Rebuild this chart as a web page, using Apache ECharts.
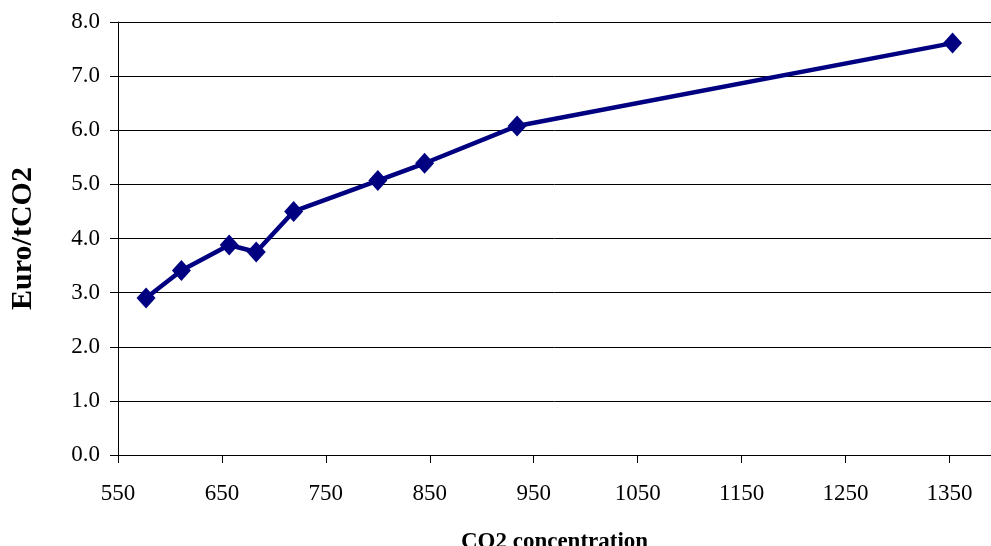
<!DOCTYPE html>
<html>
<head>
<meta charset="utf-8">
<script src="https://cdn.jsdelivr.net/npm/echarts@6/dist/echarts.min.js"></script>
<style>
  html, body { margin: 0; padding: 0; background: #fff; }
  #chart { width: 991px; height: 546px; }
</style>
</head>
<body>
<div id="chart"></div>
<script>
// CO2 concentration vs cost
const co2 = [577, 611, 657, 683, 719, 800, 845, 934, 1353];
const euroPerT = [2.9, 3.41, 3.88, 3.75, 4.5, 5.07, 5.39, 6.08, 7.61];

const FONT = '"Liberation Serif", "Times New Roman", serif';

const chart = echarts.init(document.getElementById('chart'));
chart.setOption({
  animation: false,
  grid: { left: 118, right: 0, top: 22, bottom: 91, outerBoundsMode: 'none' },
  xAxis: {
    type: 'value',
    min: 550,
    max: 1390,
    interval: 100,
    name: 'CO2 concentration',
    nameLocation: 'middle',
    nameGap: 76,
    nameTextStyle: { fontFamily: FONT, fontSize: 23, fontWeight: 'bold', color: '#000' },
    axisLine: { lineStyle: { color: '#000', width: 1 } },
    axisTick: { show: true, length: 8, lineStyle: { color: '#000' } },
    axisLabel: {
      margin: 27,
      fontFamily: FONT, fontSize: 23, color: '#000',
      formatter: v => ((v - 550) % 100 === 0 ? String(v) : '')
    },
    splitLine: { show: false }
  },
  yAxis: {
    type: 'value',
    min: 0,
    max: 8,
    interval: 1,
    name: 'Euro/tCO2',
    nameLocation: 'middle',
    nameGap: 80,
    nameRotate: 90,
    nameTextStyle: { fontFamily: FONT, fontSize: 30, fontWeight: 'bold', color: '#000' },
    axisLine: { show: true, lineStyle: { color: '#000', width: 1 } },
    axisTick: { show: true, length: 8, lineStyle: { color: '#000' } },
    axisLabel: {
      margin: 18,
      fontFamily: FONT, fontSize: 23, color: '#000',
      formatter: v => v.toFixed(1)
    },
    splitLine: { show: true, lineStyle: { color: '#000', width: 1 } }
  },
  series: [{
    type: 'line',
    data: co2.map((x, i) => [x, euroPerT[i]]),
    symbol: 'diamond',
    symbolSize: [19, 21],
    itemStyle: { color: '#000080' },
    lineStyle: { color: '#000080', width: 4.5 }
  }]
});
</script>
</body>
</html>
